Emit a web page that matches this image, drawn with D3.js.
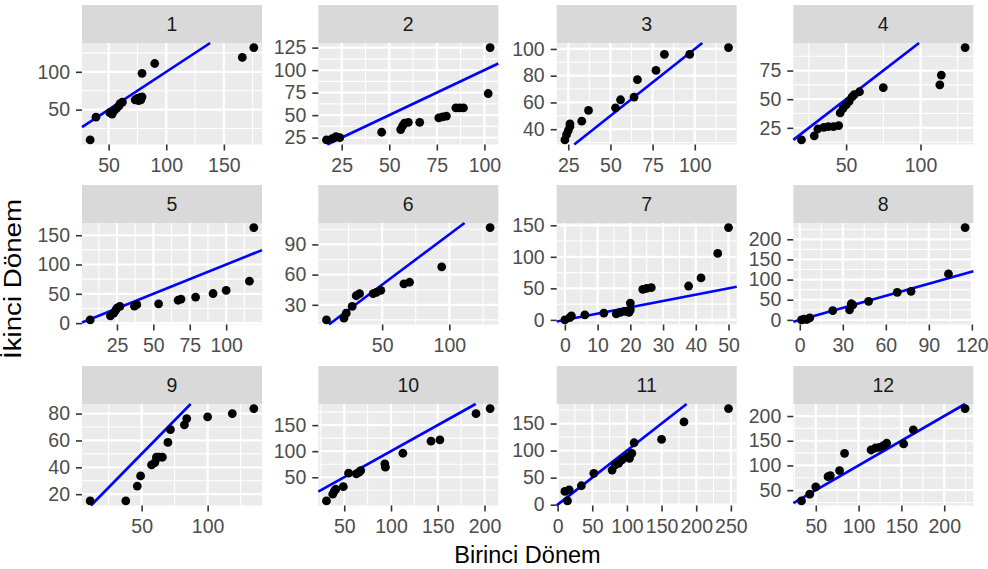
<!DOCTYPE html>
<html>
<head>
<meta charset="utf-8">
<script src="https://cdn.jsdelivr.net/npm/d3@7"></script>
<style>
  body { margin: 0; background: #fff; }
  text { font-family: "Liberation Sans", Arial, sans-serif; }
</style>
</head>
<body>
<svg id="chart" width="988" height="569"></svg>
<script>
// Facet labels
const panels = ['1', '2', '3', '4', '5', '6', '7', '8', '9', '10', '11', '12'];

// Birinci Dönem (x) per facet
const xVals = [
  [34, 39, 51, 53, 55, 57, 59, 60, 62, 73, 75, 76, 77, 78, 79, 79, 90, 166, 176],
  [17, 20, 22, 24, 46, 56, 57, 58, 60, 66, 76, 78, 80, 85, 87, 89, 102, 103],
  [23, 24, 25, 26, 26, 33, 37, 53, 56, 64, 66, 77, 82, 97, 120],
  [20, 28.6, 31, 35, 38, 41.5, 45, 46, 48, 50, 52, 54, 55.5, 59, 75, 113, 114, 130],
  [6.6, 20.5, 22.8, 24, 25, 27, 37, 38.6, 53.6, 67, 69, 79, 91, 100, 116, 119],
  [8.6, 21.6, 23.3, 27.7, 30.7, 33.2, 43.3, 45.7, 49, 66.2, 70.4, 94.3, 130.3],
  [0, 1.5, 2, 6.1, 11.9, 15.7, 16.9, 18.2, 19.6, 20, 20, 23.8, 25, 26.4, 37.8, 41.6, 46.7, 50],
  [1.2, 3, 5, 7, 23, 34.7, 35.9, 37, 48, 68, 77.6, 103.7, 115.3],
  [11, 38, 46.7, 49.2, 57.5, 60, 61.2, 63.2, 65.7, 69.9, 71.8, 82.4, 84.2, 100, 118.7, 135],
  [31, 37.7, 39.5, 41, 49, 54.6, 63, 66, 67.6, 93.4, 94, 112.7, 142.8, 152.3, 190.9, 206],
  [10.5, 16.7, 14.3, 34.3, 52.3, 78.6, 83.3, 88, 92.9, 100, 103.7, 107.1, 110.4, 150, 182.3, 246.6],
  [33.3, 42.9, 50, 64.3, 67, 77.8, 83.6, 114.6, 119.6, 124.3, 128.9, 132.8, 152.6, 163.9, 224.4]
];

// İkinci Dönem (y) per facet
const yVals = [
  [10, 40, 46, 44, 49, 52, 55, 58, 60, 63, 65, 62, 66, 63, 67, 98, 111, 119, 132],
  [22.5, 24, 26, 25, 31, 34, 38, 41, 42, 42, 47, 48, 49, 58, 58, 58, 74, 125],
  [32, 36, 39, 42, 44, 46, 54, 56, 62, 64, 77, 84, 96, 96, 101],
  [14.5, 18, 24, 25.5, 26, 26, 27, 38, 42, 45, 48, 52, 54, 56.5, 60, 62.5, 71, 95],
  [5.5, 12.5, 17, 21.5, 25.5, 28.5, 29, 31.5, 33, 39, 41, 44.5, 50.5, 56, 71.5, 163],
  [15, 16.7, 21.7, 28.4, 39, 41, 41, 42.4, 44.4, 50.7, 52.4, 67.7, 106.7],
  [0, 3.5, 6.4, 8, 10.7, 9.6, 11.8, 13.4, 11.8, 16, 26.6, 48.4, 50, 51, 53.7, 66.5, 105.3, 146.3],
  [0, 2, 1, 5, 23, 25, 40, 37, 46, 68.5, 71, 114, 229],
  [15, 15, 26, 33.6, 41.8, 43.5, 47.5, 47.5, 47.5, 58.5, 68, 71.6, 76.3, 77.5, 80, 83.7],
  [4.7, 17.6, 24, 27, 32, 57.8, 56.4, 60, 62.8, 75.8, 69.4, 96.1, 119.3, 121.8, 172, 181.7],
  [24.5, 27.5, 7, 35, 58, 64, 73.4, 76.5, 82.6, 88.8, 85.7, 95, 114.5, 120.6, 153, 177.6],
  [28.3, 41.9, 56.8, 77.3, 79.3, 89.6, 124.5, 131.3, 135.3, 136.7, 140, 144.9, 143.5, 172.1, 215]
];

// Tick labels per facet
const xTicks = [
  [50, 100, 150], [25, 50, 75, 100], [25, 50, 75, 100], [50, 100],
  [25, 50, 75, 100], [50, 100], [0, 10, 20, 30, 40, 50], [0, 30, 60, 90, 120],
  [50, 100], [50, 100, 150, 200], [0, 50, 100, 150, 200, 250], [50, 100, 150, 200]
];
const yTicks = [
  [50, 100], [25, 50, 75, 100, 125], [40, 60, 80, 100], [25, 50, 75],
  [0, 50, 100, 150], [30, 60, 90], [0, 50, 100, 150], [0, 50, 100, 150, 200],
  [20, 40, 60, 80], [50, 100, 150], [0, 50, 100, 150], [50, 100, 150, 200]
];

// Layout
const colLeft = [82, 318.3, 556.7, 793.3],
  panelW = 180;
const rowTop = [5, 185, 366],
  stripH = 38,
  panelH = 101.5;

const svg = d3.select('#chart');

// ggplot style 5% expansion
function expand(ext) {
  const pad = (ext[1] - ext[0]) * 0.05;
  return [ext[0] - pad, ext[1] + pad];
}

// Minor breaks halfway between majors (and one step outside)
function minors(ticks, domain) {
  const step = ticks[1] - ticks[0];
  const out = [ticks[0] - step / 2];
  ticks.forEach(t => out.push(t + step / 2));
  return out.filter(v => v > domain[0] && v < domain[1]);
}

panels.forEach((name, i) => {
  const left = colLeft[i % 4],
    top = rowTop[Math.floor(i / 4)] + stripH;
  const g = svg.append('g').attr('transform', 'translate(' + left + ',' + top + ')');

  const xs = xVals[i],
    ys = yVals[i];
  const x = d3.scaleLinear().domain(expand(d3.extent(xs))).range([0, panelW]);
  const y = d3.scaleLinear().domain(expand(d3.extent(ys))).range([panelH, 0]);

  // Strip
  g.append('rect')
    .attr('y', -stripH)
    .attr('width', panelW)
    .attr('height', stripH)
    .attr('fill', '#d9d9d9');
  g.append('text')
    .attr('x', panelW / 2)
    .attr('y', -stripH / 2)
    .attr('dy', '0.36em')
    .attr('text-anchor', 'middle')
    .attr('fill', '#1a1a1a')
    .style('font-size', '19.5px')
    .text(name);

  // Panel background
  g.append('rect').attr('width', panelW).attr('height', panelH).attr('fill', '#ebebeb');

  // Grid
  g.selectAll('.xminor')
    .data(minors(xTicks[i], x.domain()))
    .join('line')
    .attr('x1', d => x(d)).attr('x2', d => x(d))
    .attr('y1', 0).attr('y2', panelH)
    .attr('stroke', '#fff').attr('stroke-width', 1.1);
  g.selectAll('.yminor')
    .data(minors(yTicks[i], y.domain()))
    .join('line')
    .attr('y1', d => y(d)).attr('y2', d => y(d))
    .attr('x1', 0).attr('x2', panelW)
    .attr('stroke', '#fff').attr('stroke-width', 1.1);
  g.selectAll('.xmajor')
    .data(xTicks[i])
    .join('line')
    .attr('x1', d => x(d)).attr('x2', d => x(d))
    .attr('y1', 0).attr('y2', panelH)
    .attr('stroke', '#fff').attr('stroke-width', 2.2);
  g.selectAll('.ymajor')
    .data(yTicks[i])
    .join('line')
    .attr('y1', d => y(d)).attr('y2', d => y(d))
    .attr('x1', 0).attr('x2', panelW)
    .attr('stroke', '#fff').attr('stroke-width', 2.2);

  // Reference line y = x, cut to the panel
  const lo = Math.max(x.domain()[0], y.domain()[0]),
    hi = Math.min(x.domain()[1], y.domain()[1]);
  g.append('line')
    .attr('x1', x(lo)).attr('y1', y(lo))
    .attr('x2', x(hi)).attr('y2', y(hi))
    .attr('stroke', '#0000ff')
    .attr('stroke-width', 2.6);

  // Points
  g.selectAll('circle')
    .data(xs.map((v, k) => [v, ys[k]]))
    .join('circle')
    .attr('cx', d => x(d[0]))
    .attr('cy', d => y(d[1]))
    .attr('r', 4.4)
    .attr('fill', '#000');

  // Axes
  const ax = g.append('g')
    .attr('transform', 'translate(0,' + panelH + ')')
    .call(d3.axisBottom(x).tickValues(xTicks[i]).tickSize(6).tickPadding(8));
  const ay = g.append('g')
    .call(d3.axisLeft(y).tickValues(yTicks[i]).tickSize(6).tickPadding(6));
  [ax, ay].forEach(a => {
    a.select('.domain').remove();
    a.selectAll('line').attr('stroke', '#333').attr('stroke-width', 1.6);
    a.selectAll('text')
      .attr('fill', '#4d4d4d')
      .style('font-size', '19.5px')
      .style('font-family', '"Liberation Sans", Arial, sans-serif');
  });
});

// Axis titles
svg.append('text')
  .attr('x', 527.5)
  .attr('y', 563)
  .attr('text-anchor', 'middle')
  .attr('fill', '#000')
  .style('font-size', '23.5px')
  .text('Birinci Dönem');

svg.append('text')
  .attr('transform', 'translate(21,279) rotate(-90)')
  .attr('text-anchor', 'middle')
  .attr('fill', '#000')
  .style('font-size', '23.5px')
  .attr('textLength', 160)
  .attr('lengthAdjust', 'spacingAndGlyphs')
  .text('İkinci Dönem');
</script>
</body>
</html>
